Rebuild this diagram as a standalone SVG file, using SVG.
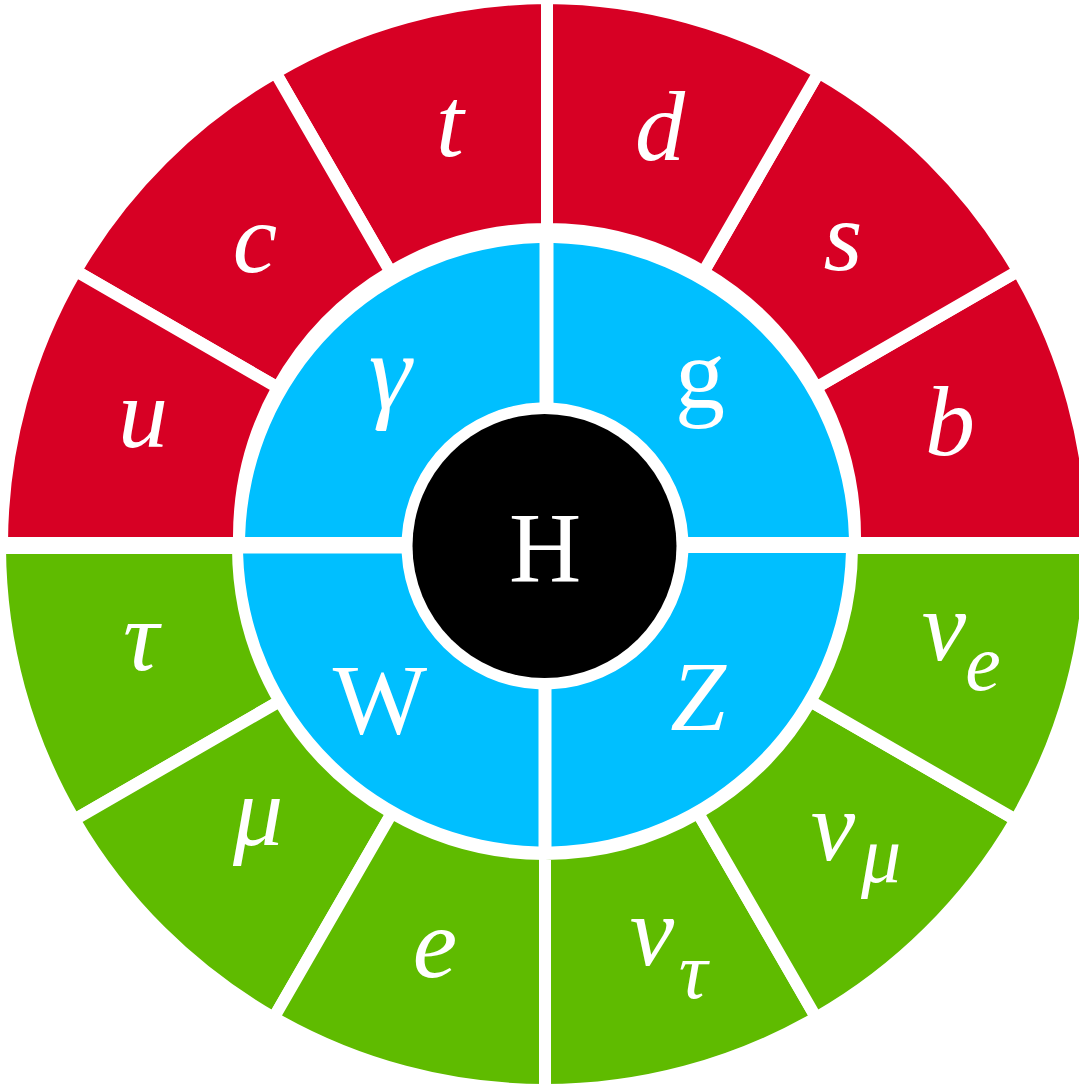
<svg xmlns="http://www.w3.org/2000/svg" width="1079" height="1084" viewBox="0 0 1079 1084">
<style>
.red{fill:#D70024;stroke:#fff;stroke-width:12;stroke-linejoin:miter}
.green{fill:#5FBB00;stroke:#fff;stroke-width:12;stroke-linejoin:miter}
.blue{fill:#00BFFF}
.lbl{font-family:"Liberation Serif","Times New Roman",serif;font-style:italic;font-size:100px;fill:#fff;text-anchor:middle}
.rm{font-style:normal}
.sub{font-size:80px}
</style>
<rect width="1079" height="1084" fill="#fff"/>
<g id="quark-b"><path class="red" d="M1092 543A545 545 0 0 0 1018.1 271L816.3 387.5A308 308 0 0 1 854.94 543Z"/><text class="lbl" x="950" y="455">b</text></g>
<g id="quark-s"><path class="red" d="M1018.1 271A545 545 0 0 0 818.6 72.5L703.6 271.8A308 308 0 0 1 816.3 387.5Z"/><text class="lbl" x="843" y="270">s</text></g>
<g id="quark-d"><path class="red" d="M818.6 72.5A545 545 0 0 0 547 -2L547 229A308 308 0 0 1 703.6 271.8Z"/><text class="lbl" x="660" y="160">d</text></g>
<g id="quark-t"><path class="red" d="M547 -2A545 545 0 0 0 275.4 72.5L390.4 271.8A308 308 0 0 1 547 229Z"/><text class="lbl" x="450" y="156">t</text></g>
<g id="quark-c"><path class="red" d="M275.4 72.5A545 545 0 0 0 75.9 271L277.7 387.5A308 308 0 0 1 390.4 271.8Z"/><text class="lbl" x="255" y="272">c</text></g>
<g id="quark-u"><path class="red" d="M75.9 271A545 545 0 0 0 2 543L239.06 543A308 308 0 0 1 277.7 387.5Z"/><text class="lbl" x="143" y="447">u</text></g>
<g id="lepton-tau"><path class="green" d="M0 548A545 545 0 0 0 74.3 819.7L279.6 701.25A307 307 0 0 1 238 548Z"/><text class="lbl" x="141" y="670">τ</text></g>
<g id="lepton-mu"><path class="green" d="M74.3 819.7A545 545 0 0 0 273.8 1017.7L391.9 813.1A307 307 0 0 1 279.6 701.25Z"/><text class="lbl" x="258" y="845">μ</text></g>
<g id="lepton-e"><path class="green" d="M273.8 1017.7A545 545 0 0 0 545 1090L545 854A307 307 0 0 1 391.9 813.1Z"/><text class="lbl" x="435" y="977">e</text></g>
<g id="neutrino-tau"><path class="green" d="M545 1090A545 545 0 0 0 816.2 1017.7L698.1 813.1A307 307 0 0 1 545 854Z"/><text class="lbl"><tspan x="652" y="965">ν</tspan><tspan class="sub" x="693" y="998">τ</tspan></text></g>
<g id="neutrino-mu"><path class="green" d="M816.2 1017.7A545 545 0 0 0 1015.7 819.7L810.4 701.25A307 307 0 0 1 698.1 813.1Z"/><text class="lbl"><tspan x="833" y="860">ν</tspan><tspan class="sub" x="881" y="882">μ</tspan></text></g>
<g id="neutrino-e"><path class="green" d="M1015.7 819.7A545 545 0 0 0 1090 548L852 548A307 307 0 0 1 810.4 701.25Z"/><text class="lbl"><tspan x="944" y="660">ν</tspan><tspan class="sub" x="983" y="690">e</tspan></text></g>
<g id="boson-photon"><path class="blue" d="M245.1 537A302 302 0 0 1 539.5 243.1L539.5 402.6A143.5 143.5 0 0 0 401.8 537Z"/><text class="lbl" x="390" y="408" style="font-size:108px">γ</text></g>
<g id="boson-gluon"><path class="blue" d="M553.5 243.1A302 302 0 0 1 848.9 537L688.2 537A143.5 143.5 0 0 0 553.5 402.75Z"/><text class="lbl rm" x="700" y="408">g</text></g>
<g id="boson-W"><path class="blue" d="M243.1 553.5L401.7 553.5A143.5 143.5 0 0 0 538.5 689.35L538.5 846.4A301.5 301.5 0 0 1 243.1 553.5Z"/><text class="lbl rm" x="380" y="733">W</text></g>
<g id="boson-Z"><path class="blue" d="M688.3 553L845.9 553A301.5 301.5 0 0 1 551.5 846.4L551.5 689.35A143.5 143.5 0 0 0 688.3 553Z"/><text class="lbl" x="698" y="730">Z</text></g>
<g id="higgs"><circle cx="544.5" cy="546" r="132" fill="#000"/><text class="lbl rm" x="545" y="581">H</text></g>
</svg>
